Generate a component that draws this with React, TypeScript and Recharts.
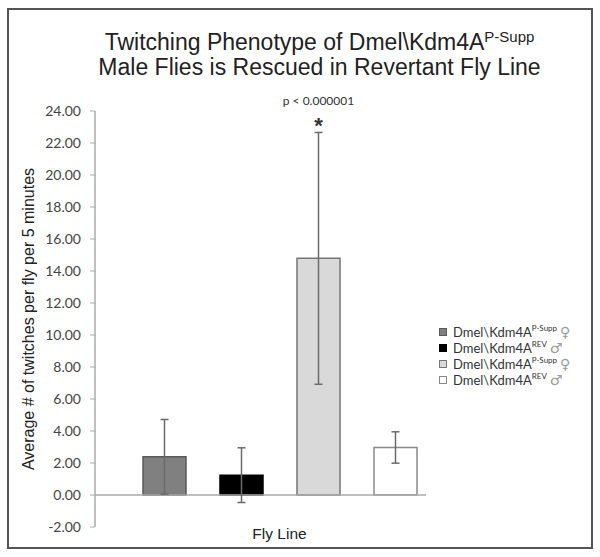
import { BarChart, Bar, XAxis, YAxis, ErrorBar, ReferenceLine, Legend } from "recharts";

// one x category, four fly lines drawn as separate series (Excel style)
const category = "Fly Line";
const lineNames = ["Dmel\\Kdm4A", "Dmel\\Kdm4A", "Dmel\\Kdm4A", "Dmel\\Kdm4A"];
const lineSupers = ["P-Supp", "REV", "P-Supp", "REV"];
const lineSex = ["♀", "♂", "♀", "♂"];
const means = [2.39, 1.24, 14.79, 2.97];
const errors = [2.33, 1.71, 7.87, 0.98];
const yTicks = [-2, 0, 2, 4, 6, 8, 10, 12, 14, 16, 18, 20, 22, 24];
const sigText = "p < 0.000001";
const sigIndex = 2;

const fills = ["#808080", "#000000", "#d9d9d9", "#ffffff"];
const strokes = ["#595959", "#000000", "#767676", "#8a8a8a"];

const row: Record<string, string | number> = { name: category };
means.forEach((m, i) => {
  row[`m${i}`] = m;
  row[`e${i}`] = errors[i];
});
const data = [row];

const calibri = "Lato, 'Open Sans', sans-serif";
const arial = "'Liberation Sans', Arial, sans-serif";

function SigLabel(props: any) {
  const x = Number(props.x) + Number(props.width) / 2;
  const perUnit = Number(props.height) / Number(props.value);
  const top = Number(props.y) - errors[sigIndex] * perUnit;
  return (
    <g>
      <text x={x} y={top - 27} textAnchor="middle" fontFamily={calibri} fontSize={12} fill="#333">
        {sigText}
      </text>
      <text x={x} y={top + 1} textAnchor="middle" fontFamily={arial} fontSize={22} fontWeight="bold" fill="#333">
        *
      </text>
    </g>
  );
}

function LegendBox() {
  return (
    <div style={{ fontFamily: calibri, fontSize: 13, color: "#333" }}>
      {lineNames.map((n, i) => (
        <div key={i} style={{ height: 16, display: "flex", alignItems: "center", whiteSpace: "nowrap" }}>
          <span
            style={{
              display: "inline-block",
              width: 6,
              height: 6,
              background: fills[i],
              border: `1px solid ${strokes[i]}`,
              marginRight: 6,
            }}
          />
          <span>{n}</span>
          <span style={{ fontSize: 8, position: "relative", top: -4 }}>{lineSupers[i]}</span>
          <span style={{ fontFamily: "'DejaVu Sans', sans-serif", fontSize: 14, color: "#999", marginLeft: 3 }}>
            {lineSex[i]}
          </span>
        </div>
      ))}
    </div>
  );
}

export default function App() {
  return (
    <div style={{ position: "absolute", left: 0, top: 0, width: 600, height: 557, background: "#fff" }}>
      <div
        style={{
          position: "absolute",
          left: 7,
          top: 8,
          width: 582,
          height: 537,
          border: "2px solid #555",
        }}
      />
      <div
        style={{
          position: "absolute",
          left: 60,
          top: 31,
          width: 519,
          textAlign: "center",
          fontFamily: arial,
          fontSize: 23,
          lineHeight: "23px",
          color: "#222",
        }}
      >
        <div>
          Twitching Phenotype of Dmel\Kdm4A
          <span style={{ fontSize: 15, position: "relative", top: -8 }}>P-Supp</span>
        </div>
        <div>Male Flies is Rescued in Revertant Fly Line</div>
      </div>
      <div style={{ position: "absolute", left: 0, top: 0 }}>
        <BarChart
          width={600}
          height={557}
          data={data}
          margin={{ top: 111, right: 174, bottom: 10, left: 0 }}
          barGap={34}
          barSize={43}
        >
          <XAxis
            dataKey="name"
            tick={false}
            axisLine={false}
            tickLine={false}
            height={20}
            padding={{ left: 38, right: 0 }}
            label={{
              value: category,
              position: "insideBottom",
              offset: 8,
              dx: 19,
              fontFamily: arial,
              fontSize: 15.5,
              fill: "#222",
            }}
          />
          <YAxis
            domain={[-2, 24]}
            ticks={yTicks}
            interval={0}
            width={95}
            tickSize={5}
            tickMargin={9}
            tickFormatter={(v: number) => v.toFixed(2)}
            axisLine={{ stroke: "#aaa", strokeWidth: 1.5 }}
            tickLine={{ stroke: "#aaa" }}
            tick={{ fontFamily: calibri, fontSize: 14, fill: "#444" }}
            label={{
              value: "Average # of twitches per fly per 5 minutes",
              angle: -90,
              position: "center",
              dx: -19,
              fontFamily: arial,
              fontSize: 16,
              fill: "#222",
            }}
          />
          <ReferenceLine y={0} stroke="#aaa" strokeWidth={1.5} />
          <Legend
            layout="horizontal"
            verticalAlign="middle"
            align="center"
            wrapperStyle={{ left: 439, top: 324, width: 155 }}
            content={() => <LegendBox />}
          />
          {means.map((_, i) => (
            <Bar
              key={i}
              dataKey={`m${i}`}
              fill={fills[i]}
              stroke={strokes[i]}
              strokeWidth={1.5}
              isAnimationActive={false}
              label={i === sigIndex ? SigLabel : undefined}
            >
              <ErrorBar dataKey={`e${i}`} width={4} stroke="#6a6a6a" strokeWidth={1.5} />
            </Bar>
          ))}
        </BarChart>
      </div>
    </div>
  );
}
